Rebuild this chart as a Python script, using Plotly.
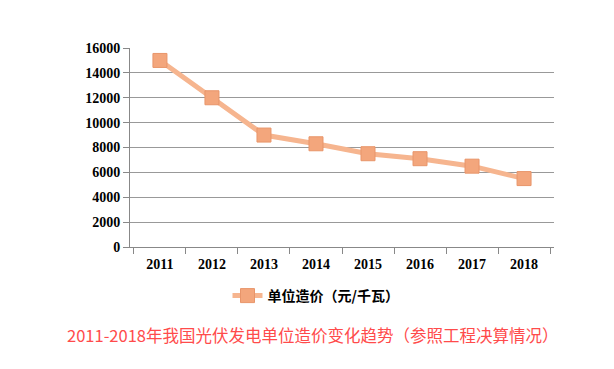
import plotly.graph_objects as go

years = ["2011", "2012", "2013", "2014", "2015", "2016", "2017", "2018"]
unit_cost = [15000, 12000, 9000, 8300, 7500, 7100, 6500, 5500]
y_ticks = [0, 2000, 4000, 6000, 8000, 10000, 12000, 14000, 16000]
series_name = "单位造价（元/千瓦）"
title_text = "2011-2018年我国光伏发电单位造价变化趋势（参照工程决算情况）"

fig = go.Figure()
fig.add_trace(go.Scatter(
    x=years, y=unit_cost, name=series_name, mode="lines+markers",
    line=dict(color="#f6b58f", width=5),
    marker=dict(symbol="square", size=14, color="#f3a67c",
                line=dict(color="#e8956a", width=1)),
))

fig.update_layout(
    width=614, height=369,
    margin=dict(l=122, r=68, t=40, b=130),
    paper_bgcolor="white", plot_bgcolor="white",
    showlegend=True,
    legend=dict(orientation="h", xref="paper", yref="paper",
                x=(308 - 122) / 424, y=-(288 - 239) / 199,
                xanchor="center", yanchor="middle",
                font=dict(family="Noto Sans CJK SC", size=14, color="black",
                          weight="bold"),
                itemwidth=30),
    font=dict(family="Liberation Serif", color="black"),
    xaxis=dict(type="category", tickson="boundaries", ticks="outside",
               ticklen=6, tickcolor="#888888", showline=True,
               linecolor="#888888", linewidth=1, showgrid=False,
               ticklabelstandoff=4,
               tickfont=dict(family="Liberation Serif", size=14, color="black",
                             weight="bold")),
    yaxis=dict(range=[0, 16000], tickvals=y_ticks, ticks="outside",
               ticklen=6, tickcolor="#888888", showline=True,
               linecolor="#888888", linewidth=1, showgrid=True,
               gridcolor="#999999", gridwidth=1, zeroline=False,
               tickformat="d",
               tickfont=dict(family="Liberation Serif", size=14, color="black",
                             weight="bold")),
    annotations=[dict(text=title_text, xref="paper", yref="paper",
                      x=(305 - 122) / 424, y=-(327 - 239) / 199,
                      xanchor="center", yanchor="middle", showarrow=False,
                      font=dict(family="Noto Sans CJK SC", size=16.5,
                                color="#ff4b4b"))],
)

fig.write_html("out.html")
